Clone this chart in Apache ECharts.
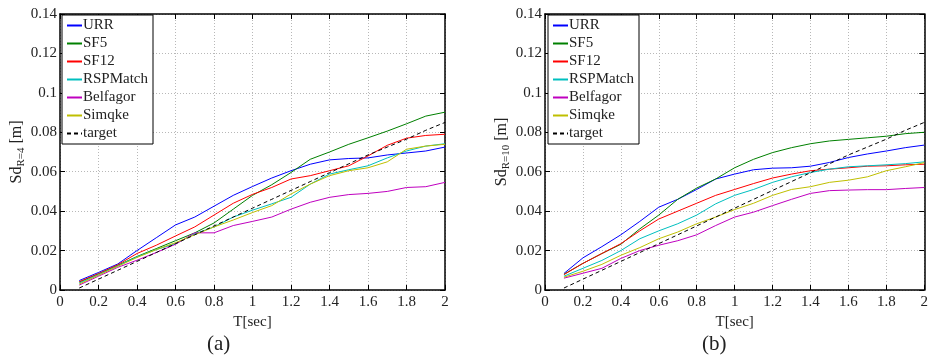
<!DOCTYPE html>
<html>
<head>
<meta charset="utf-8">
<script src="https://cdn.jsdelivr.net/npm/echarts@6/dist/echarts.min.js"></script>
<style>
    html, body { margin: 0; padding: 0; background: #fff; }
    #myChart { width: 931px; height: 363px; }
</style>
</head>
<body>
<div id="myChart"></div>
<script>
// periods T[sec]
var periods = [0.1, 0.2, 0.3, 0.4, 0.5, 0.6, 0.7, 0.8, 0.9, 1.0,
               1.1, 1.2, 1.3, 1.4, 1.5, 1.6, 1.7, 1.8, 1.9, 2.0];
var names = ['URR', 'SF5', 'SF12', 'RSPMatch', 'Belfagor', 'Simqke', 'target'];
var colors = ['#0000ff', '#008000', '#ff0000', '#00bfbf', '#bf00bf', '#bfbf00', '#000000'];
var xTicks = [0, 0.2, 0.4, 0.6, 0.8, 1, 1.2, 1.4, 1.6, 1.8, 2];
var yTicks = [0, 0.02, 0.04, 0.06, 0.08, 0.1, 0.12, 0.14];

// (a) R = 4
var urrA      = [0.0048, 0.0089, 0.0132, 0.0200, 0.0265, 0.0330, 0.0370, 0.0425, 0.0480, 0.0525,
                 0.0568, 0.0605, 0.0638, 0.0660, 0.0667, 0.0670, 0.0685, 0.0695, 0.0705, 0.0725];
var sf5A      = [0.0040, 0.0082, 0.0125, 0.0170, 0.0210, 0.0250, 0.0290, 0.0340, 0.0410, 0.0480,
                 0.0534, 0.0596, 0.0663, 0.0700, 0.0739, 0.0772, 0.0806, 0.0843, 0.0882, 0.0902];
var sf12A     = [0.0042, 0.0083, 0.0128, 0.0185, 0.0227, 0.0274, 0.0320, 0.0380, 0.0440, 0.0485,
                 0.0520, 0.0563, 0.0580, 0.0605, 0.0630, 0.0680, 0.0734, 0.0770, 0.0784, 0.0790];
var rspA      = [0.0035, 0.0078, 0.0122, 0.0168, 0.0205, 0.0235, 0.0285, 0.0320, 0.0370, 0.0405,
                 0.0437, 0.0470, 0.0537, 0.0588, 0.0610, 0.0630, 0.0670, 0.0705, 0.0730, 0.0742];
var belA      = [0.0025, 0.0070, 0.0115, 0.0151, 0.0190, 0.0232, 0.0290, 0.0290, 0.0327, 0.0348,
                 0.0370, 0.0410, 0.0445, 0.0470, 0.0484, 0.0490, 0.0500, 0.0520, 0.0524, 0.0546];
var simA      = [0.0030, 0.0075, 0.0120, 0.0165, 0.0205, 0.0240, 0.0280, 0.0320, 0.0355, 0.0393,
                 0.0428, 0.0487, 0.0537, 0.0580, 0.0605, 0.0620, 0.0650, 0.0714, 0.0730, 0.0739];
var targetA   = [0.0010, 0.0055, 0.0100, 0.0145, 0.0190, 0.0235, 0.0280, 0.0325, 0.0370, 0.0415,
                 0.0460, 0.0505, 0.0550, 0.0595, 0.0640, 0.0685, 0.0725, 0.0765, 0.0810, 0.0850];

// (b) R = 10
var urrB      = [0.0084, 0.0163, 0.0220, 0.0280, 0.0348, 0.0420, 0.0460, 0.0510, 0.0563, 0.0588,
                 0.0610, 0.0618, 0.0620, 0.0628, 0.0647, 0.0672, 0.0690, 0.0705, 0.0722, 0.0735];
var sf5B      = [0.0080, 0.0135, 0.0185, 0.0232, 0.0310, 0.0380, 0.0460, 0.0517, 0.0563, 0.0620,
                 0.0663, 0.0697, 0.0722, 0.0742, 0.0756, 0.0764, 0.0772, 0.0780, 0.0793, 0.0800];
var sf12B     = [0.0078, 0.0135, 0.0185, 0.0235, 0.0300, 0.0360, 0.0400, 0.0440, 0.0480, 0.0510,
                 0.0540, 0.0568, 0.0588, 0.0605, 0.0613, 0.0620, 0.0628, 0.0630, 0.0635, 0.0638];
var rspB      = [0.0070, 0.0110, 0.0150, 0.0200, 0.0260, 0.0300, 0.0336, 0.0380, 0.0437, 0.0480,
                 0.0510, 0.0546, 0.0574, 0.0596, 0.0613, 0.0625, 0.0630, 0.0635, 0.0641, 0.0650];
var belB      = [0.0060, 0.0085, 0.0110, 0.0160, 0.0200, 0.0227, 0.0250, 0.0280, 0.0327, 0.0370,
                 0.0395, 0.0428, 0.0460, 0.0490, 0.0504, 0.0507, 0.0509, 0.0509, 0.0515, 0.0520];
var simB      = [0.0065, 0.0095, 0.0130, 0.0176, 0.0215, 0.0260, 0.0294, 0.0336, 0.0370, 0.0408,
                 0.0440, 0.0480, 0.0510, 0.0524, 0.0546, 0.0557, 0.0574, 0.0605, 0.0625, 0.0646];
var targetB   = [0.0010, 0.0055, 0.0100, 0.0145, 0.0190, 0.0235, 0.0280, 0.0325, 0.0370, 0.0415,
                 0.0460, 0.0505, 0.0550, 0.0595, 0.0640, 0.0685, 0.0725, 0.0765, 0.0810, 0.0850];

var FONT = '"Liberation Serif", "Times New Roman", serif';

function pairs(ys) {
    var out = [];
    for (var i = 0; i < periods.length; i++) {
        out.push([periods[i], ys[i]]);
    }
    return out;
}

function make_series(grid, sets) {
    var list = [];
    for (var i = 0; i < names.length; i++) {
        list.push({
            name: names[i],
            type: 'line',
            xAxisIndex: grid * 2,
            yAxisIndex: grid * 2,
            showSymbol: false,
            symbol: 'none',
            silent: true,
            animation: false,
            lineStyle: {
                color: colors[i],
                width: 1,
                type: names[i] === 'target' ? [4, 3] : 'solid'
            },
            itemStyle: { color: colors[i] },
            data: pairs(sets[i])
        });
    }
    return list;
}

function x_axes(grid) {
    var main = {
        type: 'value', gridIndex: grid, position: 'bottom',
        min: 0, max: 2, interval: 0.2,
        axisLine: { onZero: false, lineStyle: { color: '#000', width: 1.5 } },
        axisTick: { inside: true, length: 5, lineStyle: { color: '#000' } },
        axisLabel: { color: '#222', fontFamily: FONT, fontSize: 15, margin: 5 },
        splitLine: { show: true, lineStyle: { color: '#b8b8b8', type: [1, 2], width: 1 } },
        name: 'T[sec]', nameLocation: 'middle', nameGap: 24,
        nameTextStyle: { color: '#222', fontFamily: FONT, fontSize: 15 }
    };
    var top = {
        type: 'value', gridIndex: grid, position: 'top',
        min: 0, max: 2, interval: 0.2,
        axisLine: { onZero: false, lineStyle: { color: '#000', width: 1.5 } },
        axisTick: { inside: true, length: 5, lineStyle: { color: '#000' } },
        axisLabel: { show: false },
        splitLine: { show: false }
    };
    return [main, top];
}

function y_axes(grid, sub) {
    var main = {
        type: 'value', gridIndex: grid, position: 'left',
        min: 0, max: 0.14, interval: 0.02,
        axisLine: { onZero: false, lineStyle: { color: '#000', width: 1.5 } },
        axisTick: { inside: true, length: 5, lineStyle: { color: '#000' } },
        axisLabel: { color: '#222', fontFamily: FONT, fontSize: 15, margin: 3 },
        splitLine: { show: true, lineStyle: { color: '#b8b8b8', type: [1, 2], width: 1 } },
        name: '{m|Sd}{s|' + sub + '}{m| [m]}',
        nameLocation: 'middle',
        nameGap: 35,
        nameRotate: 90,
        nameTextStyle: {
            rich: {
                m: { color: '#222', fontFamily: FONT, fontSize: 16, lineHeight: 16, verticalAlign: 'top' },
                s: { color: '#222', fontFamily: FONT, fontSize: 11, lineHeight: 11, verticalAlign: 'top', padding: [7, 0, 0, 0] }
            }
        }
    };
    var right = {
        type: 'value', gridIndex: grid, position: 'right',
        min: 0, max: 0.14, interval: 0.02,
        axisLine: { onZero: false, lineStyle: { color: '#000', width: 1.5 } },
        axisTick: { inside: true, length: 5, lineStyle: { color: '#000' } },
        axisLabel: { show: false },
        splitLine: { show: false }
    };
    return [main, right];
}

function make_legend(left) {
    return {
        left: left, top: 15,
        orient: 'vertical',
        data: names,
        itemWidth: 15, itemHeight: 10,
        itemGap: 3,
        padding: [3, 5, 3, 4],
        backgroundColor: '#fff',
        borderColor: '#000', borderWidth: 1,
        selectedMode: false,
        itemStyle: { opacity: 0, borderWidth: 0 },
        textStyle: { color: '#222', fontFamily: FONT, fontSize: 15, padding: [0, 0, 0, -4] }
    };
}

function create_image() {
    var myChart = echarts.init(document.getElementById('myChart'), null, { renderer: 'canvas' });
    var option = {
        animation: false,
        backgroundColor: '#fff',
        grid: [
            { left: 60, right: 486, top: 14, bottom: 73 },
            { left: 545, right: 1, top: 14, bottom: 73 }
        ],
        legend: [make_legend(62), make_legend(548)],
        xAxis: x_axes(0).concat(x_axes(1)),
        yAxis: y_axes(0, 'R=4').concat(y_axes(1, 'R=10')),
        series: make_series(0, [urrA, sf5A, sf12A, rspA, belA, simA, targetA])
            .concat(make_series(1, [urrB, sf5B, sf12B, rspB, belB, simB, targetB])),
        graphic: [
            { type: 'text', left: 207, top: 334,
              style: { text: '(a)', font: '21px ' + FONT, fill: '#222' } },
            { type: 'text', left: 702, top: 334,
              style: { text: '(b)', font: '21px ' + FONT, fill: '#222' } }
        ]
    };
    myChart.setOption(option);
}

create_image();
</script>
</body>
</html>
